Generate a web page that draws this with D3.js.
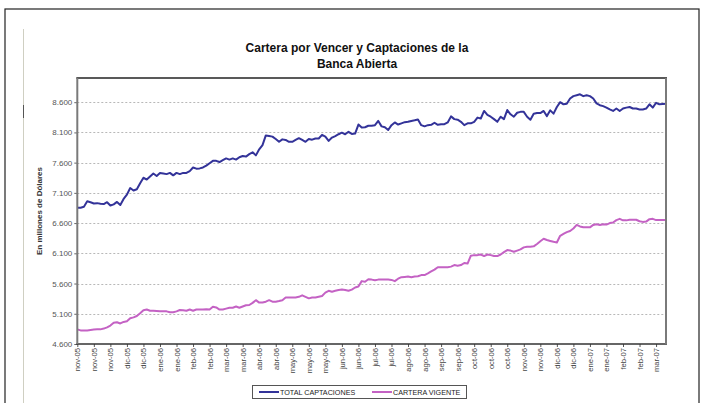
<!DOCTYPE html>
<html>
<head>
<meta charset="utf-8">
<script src="https://cdn.jsdelivr.net/npm/d3@7/dist/d3.min.js"></script>
<style>
  html, body { margin: 0; padding: 0; background: #fff; }
  #chart { width: 706px; height: 403px; }
  text { font-family: Arial, "Liberation Sans", sans-serif; }
</style>
</head>
<body>
<div id="chart"></div>
<script>
// tick labels, one every 10 business days
const tickLabels = [
  "nov-05", "nov-05", "nov-05", "dic-05", "dic-05", "ene-06", "ene-06", "feb-06", "feb-06",
  "mar-06", "mar-06", "abr-06", "abr-06", "may-06", "may-06", "may-06", "jun-06", "jun-06",
  "jul-06", "jul-06", "ago-06", "ago-06", "sep-06", "sep-06", "oct-06", "oct-06", "oct-06",
  "nov-06", "nov-06", "dic-06", "dic-06", "ene-07", "ene-07", "feb-07", "feb-07", "mar-07"
];
const yTicks = [4600, 5100, 5600, 6100, 6600, 7100, 7600, 8100, 8600];

// values read every 2 business days (day 0 .. 356)
const totalCaptaciones = [
  6854, 6854, 6870, 6960, 6945, 6925, 6930, 6920, 6915, 6945, 6890, 6910, 6950, 6900, 7000,
  7070, 7180, 7140, 7160, 7260, 7350, 7320, 7370, 7420, 7380, 7430, 7420, 7410, 7430, 7390,
  7430, 7410, 7430, 7430, 7460, 7520, 7500, 7505, 7520, 7550, 7590, 7630, 7630, 7610, 7640,
  7670, 7650, 7670, 7650, 7690, 7710, 7700, 7740, 7770, 7720, 7820, 7890, 8050, 8040, 8030,
  7990, 7945, 7985, 7975, 7945, 7945, 7975, 8005, 7975, 7945, 7990, 7980, 8000, 8000, 8060,
  8030, 7960, 8015, 8040, 8070, 8095, 8070, 8110, 8075, 8080, 8230, 8180, 8185, 8210,
  8210, 8220, 8290, 8200, 8185, 8140, 8220, 8265, 8230, 8250, 8270, 8275, 8290, 8300, 8315,
  8220, 8200, 8220, 8225, 8260, 8225, 8235, 8235, 8265, 8365, 8320, 8310, 8275, 8220, 8250,
  8250, 8275, 8345, 8330, 8455, 8390, 8360, 8320, 8275, 8360, 8320, 8470, 8400, 8360, 8425,
  8440, 8440, 8360, 8310, 8410, 8420, 8420, 8455, 8370, 8465, 8410, 8520, 8600, 8565, 8575,
  8660, 8700, 8715, 8730, 8700, 8715, 8700, 8660, 8580, 8550, 8535, 8510, 8480, 8455, 8495,
  8455, 8495, 8510, 8520, 8495, 8495, 8480, 8480, 8495, 8565, 8510, 8590, 8565, 8570, 8575
];
const carteraVigente = [
  4842, 4825, 4822, 4822, 4830, 4838, 4842, 4842, 4855, 4876, 4905, 4950, 4960, 4940, 4965,
  4975, 5025, 5040, 5063, 5110, 5160, 5170, 5150, 5150, 5145, 5140, 5140, 5140, 5125, 5125,
  5140, 5162, 5160, 5150, 5170, 5150, 5170, 5170, 5170, 5175, 5170, 5215, 5205, 5170, 5170,
  5185, 5200, 5200, 5220, 5200, 5220, 5240, 5245, 5280, 5325, 5285, 5285, 5300, 5325, 5300,
  5300, 5310, 5325, 5370, 5370, 5370, 5370, 5380, 5405, 5380, 5355, 5370, 5370, 5382, 5395,
  5450, 5480, 5465, 5480, 5493, 5500, 5493, 5480, 5500, 5535, 5550, 5640, 5630, 5670,
  5665, 5655, 5665, 5665, 5665, 5665, 5660, 5640, 5680, 5705, 5710, 5715, 5705, 5715, 5720,
  5740, 5740, 5768, 5800, 5830, 5870, 5870, 5870, 5870, 5880, 5905, 5895, 5905, 5940, 5930,
  6060, 6070, 6070, 6080, 6055, 6080, 6070, 6055, 6055, 6080, 6120, 6154, 6145, 6125, 6145,
  6165, 6198, 6210, 6210, 6215, 6255, 6300, 6340, 6320, 6305, 6290, 6280, 6390, 6420, 6450,
  6470, 6510, 6570, 6545, 6530, 6530, 6530, 6570, 6580, 6570, 6580, 6575, 6600, 6610, 6650,
  6670, 6645, 6645, 6655, 6655, 6655, 6630, 6620, 6625, 6665, 6670, 6650, 6650, 6650, 6650
];
const seriesNames = ["TOTAL CAPTACIONES", "CARTERA VIGENTE"];
const seriesColors = ["#333399", "#c462c4"];

const lastDay = 356;
const plot = { left: 77.3, top: 78, right: 666, bottom: 344 };

const svg = d3.select("#chart").append("svg")
    .attr("width", 706)
    .attr("height", 403);

// outer frame of the sheet
svg.append("rect")
    .attr("x", 5).attr("y", 9)
    .attr("width", 694).attr("height", 420)
    .attr("fill", "none")
    .attr("stroke", "#222")
    .attr("stroke-width", 1.2);
svg.append("line")
    .attr("x1", 23.5).attr("x2", 23.5).attr("y1", 29).attr("y2", 403)
    .attr("stroke", "#cfcfc2").attr("stroke-width", 1);
svg.append("line")
    .attr("x1", 23.5).attr("x2", 23.5).attr("y1", 105).attr("y2", 118)
    .attr("stroke", "#555").attr("stroke-width", 1);

const x = d3.scaleLinear().domain([0, lastDay]).range([plot.left, plot.right]);
const y = d3.scaleLinear().domain([4600, 9000]).range([plot.bottom, plot.top]);
const fmt = d3.formatLocale({ decimal: ",", thousands: ".", grouping: [3], currency: ["$", ""] }).format(",d");

// title
const title = svg.append("text")
    .attr("x", 357).attr("y", 52)
    .attr("text-anchor", "middle")
    .attr("font-size", 12)
    .attr("font-weight", "bold")
    .attr("fill", "#111");
title.append("tspan").attr("x", 357).text("Cartera por Vencer y Captaciones de la");
title.append("tspan").attr("x", 357).attr("dy", 16).text("Banca Abierta");

// gridlines
svg.append("g")
    .selectAll("line")
    .data(yTicks.filter(d => d > 4600))
    .join("line")
    .attr("x1", plot.left).attr("x2", plot.right)
    .attr("y1", d => Math.round(y(d)) + 0.5).attr("y2", d => Math.round(y(d)) + 0.5)
    .attr("stroke", "#b8b8b8")
    .attr("stroke-dasharray", "2,2");

// y axis
const yAxis = svg.append("g")
    .attr("transform", `translate(${plot.left},0)`)
    .call(d3.axisLeft(y).tickValues(yTicks).tickFormat(fmt).tickSize(3).tickPadding(2));
yAxis.select(".domain").remove();
yAxis.selectAll(".tick line").attr("stroke", "#666");
yAxis.selectAll(".tick text")
    .attr("font-size", 8)
    .attr("fill", "#555")
    .attr("font-family", "Arial, 'Liberation Sans', sans-serif");

svg.append("text")
    .attr("transform", "translate(42,211) rotate(-90)")
    .attr("text-anchor", "middle")
    .attr("font-size", 8)
    .attr("font-weight", "bold")
    .attr("fill", "#333")
    .text("En millones de Dólares");

// x axis
const tickDays = tickLabels.map((d, i) => i * 10);
const xAxis = svg.append("g")
    .attr("transform", `translate(0,${plot.bottom})`)
    .call(d3.axisBottom(x).tickValues(tickDays).tickFormat((d, i) => tickLabels[i]).tickSize(3).tickPadding(2));
xAxis.select(".domain").remove();
xAxis.selectAll(".tick line").attr("stroke", "#555");
xAxis.selectAll(".tick text")
    .attr("font-size", 7.6)
    .attr("fill", "#444")
    .attr("font-family", "Arial, 'Liberation Sans', sans-serif")
    .attr("text-anchor", "end")
    .attr("dy", null)
    .attr("transform", "translate(0,4) rotate(-90)")
    .attr("x", 0).attr("y", 0)
    .attr("dominant-baseline", "central");

// series lines
const line = d3.line()
    .x((d, i) => x(i * 2))
    .y(d => y(d));

[totalCaptaciones, carteraVigente].forEach((vals, k) => {
    svg.append("path")
        .datum(vals)
        .attr("fill", "none")
        .attr("stroke", seriesColors[k])
        .attr("stroke-width", 2)
        .attr("stroke-linejoin", "round")
        .attr("d", line);
});

// plot frame
svg.append("line")
    .attr("x1", plot.left - 1).attr("x2", plot.right + 1)
    .attr("y1", plot.top).attr("y2", plot.top)
    .attr("stroke", "#222").attr("stroke-width", 1.5);
svg.append("line")
    .attr("x1", plot.left - 1).attr("x2", plot.right + 1)
    .attr("y1", plot.bottom).attr("y2", plot.bottom)
    .attr("stroke", "#333").attr("stroke-width", 1.5);
[plot.left, plot.right].forEach(px => {
    svg.append("line")
        .attr("x1", px).attr("x2", px)
        .attr("y1", plot.top).attr("y2", plot.bottom)
        .attr("stroke", "#7a7a7a").attr("stroke-width", 2);
});

// legend
const legend = svg.append("g");
legend.append("rect")
    .attr("x", 252.5).attr("y", 385.5)
    .attr("width", 214).attr("height", 13)
    .attr("fill", "#fff")
    .attr("stroke", "#555");
const legendX = [259, 372];
seriesNames.forEach((name, k) => {
    legend.append("line")
        .attr("x1", legendX[k]).attr("x2", legendX[k] + 20)
        .attr("y1", 392).attr("y2", 392)
        .attr("stroke", seriesColors[k]).attr("stroke-width", 2);
    legend.append("text")
        .attr("x", legendX[k] + 21).attr("y", 394.6)
        .attr("font-size", 7.2)
        .attr("fill", "#222")
        .text(name);
});
</script>
</body>
</html>
